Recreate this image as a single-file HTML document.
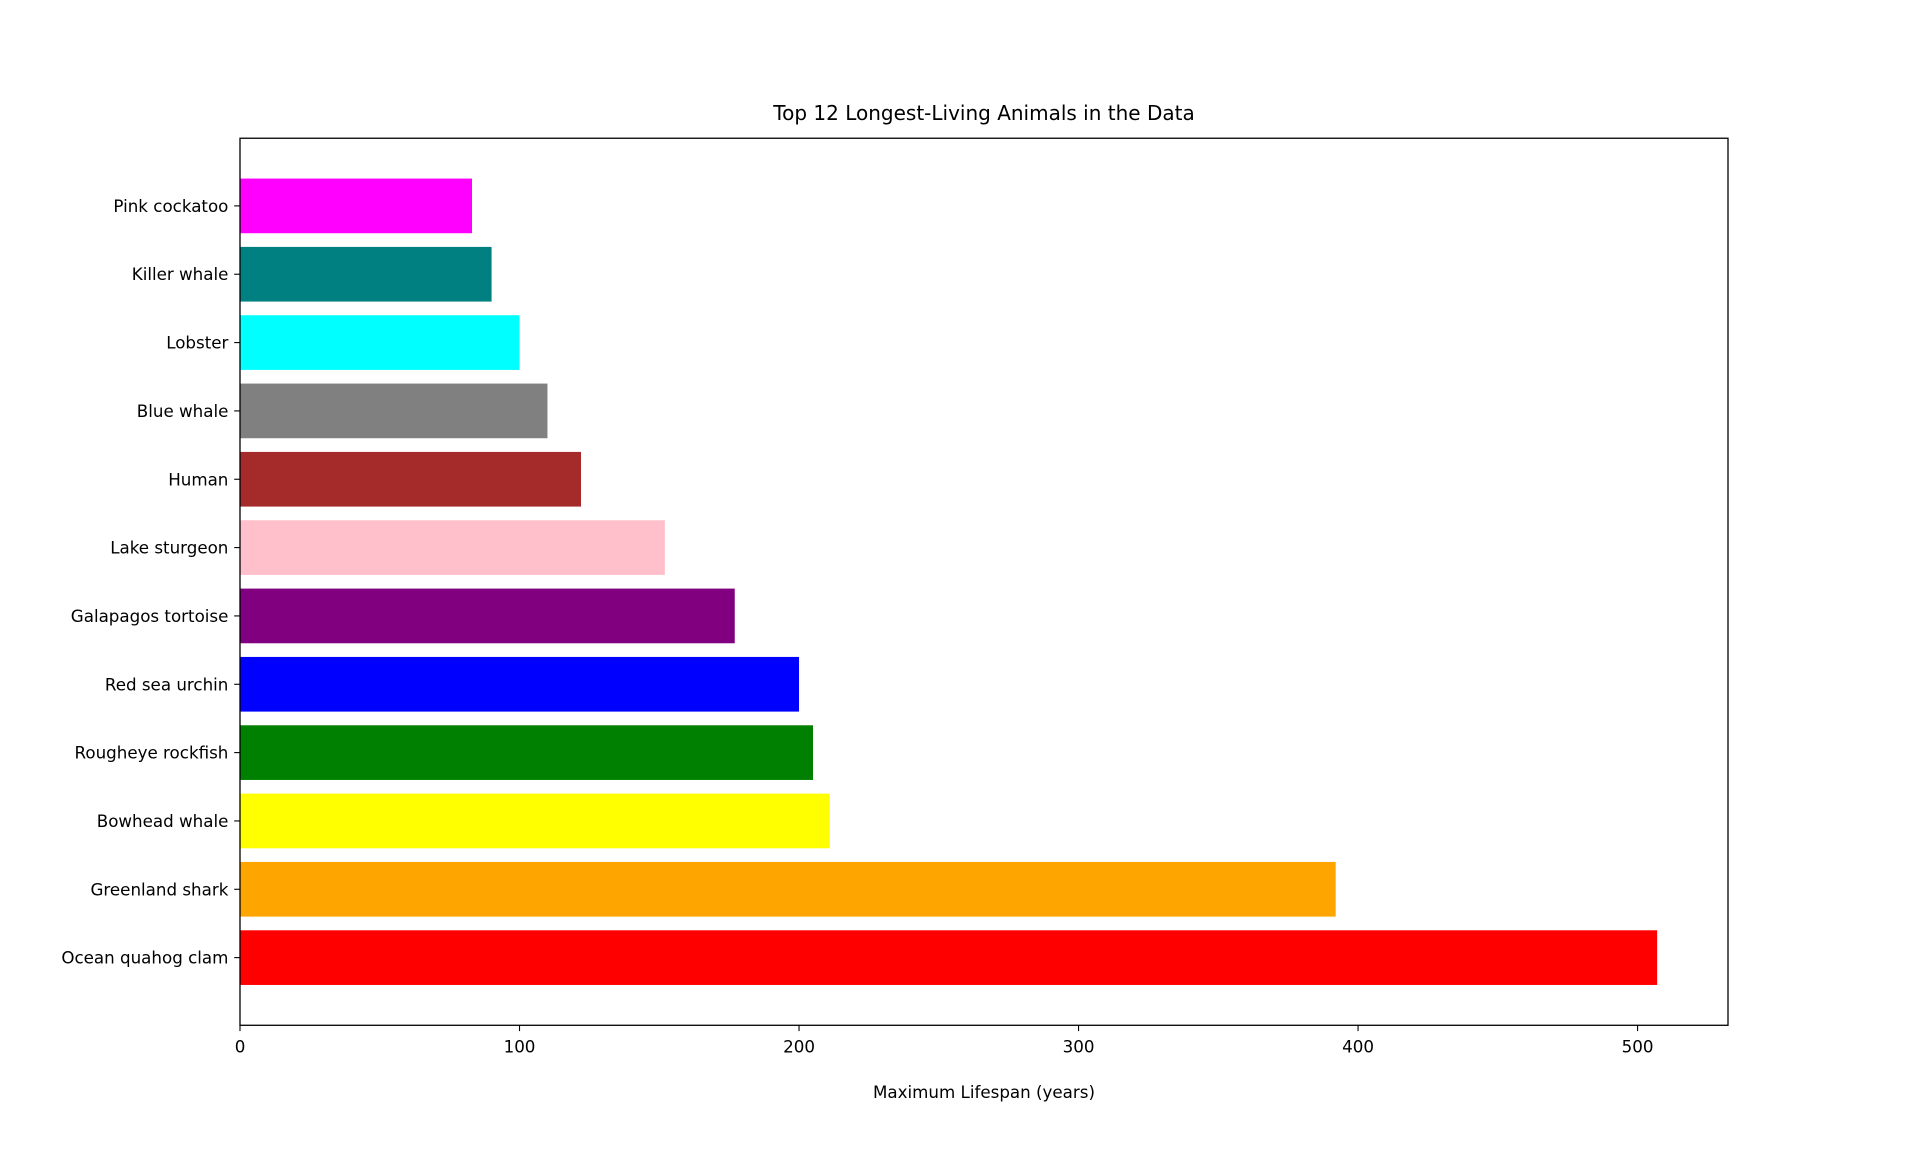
<!DOCTYPE html>
<html><head><meta charset="utf-8"><style>
html,body{margin:0;padding:0;background:#fff}
svg text{font-family:"DejaVu Sans","Liberation Sans",sans-serif;fill:#000}
</style></head><body>
<svg id="chart" width="1920" height="1152" xmlns="http://www.w3.org/2000/svg">
<rect width="1920" height="1152" fill="#fff"/>
<text x="984" y="120" font-size="20" text-anchor="middle">Top 12 Longest-Living Animals in the Data</text>
<g id="bars"></g>
<g id="yticks"></g>
<g id="xticks"></g>
<rect x="240" y="138.24" width="1488" height="887.04" fill="none" stroke="#000" stroke-width="1.3"/>
<text x="984" y="1098" font-size="16.7" text-anchor="middle">Maximum Lifespan (years)</text>
</svg>
<script>
const categories=["Ocean quahog clam","Greenland shark","Bowhead whale","Rougheye rockfish","Red sea urchin","Galapagos tortoise","Lake sturgeon","Human","Blue whale","Lobster","Killer whale","Pink cockatoo"];
const values=[507,392,211,205,200,177,152,122,110,100,90,83];
const barColors=["red","orange","yellow","green","blue","purple","pink","brown","gray","cyan","teal","magenta"];
const xTicks=[0,100,200,300,400,500];
const NS="http://www.w3.org/2000/svg";
const L=240,R=1728,T=138.24,B=1025.28;
const xmax=Math.max(...values)*1.05;
const x=v=>L+v/xmax*(R-L);
const n=categories.length;
const ylo=-0.4-0.05*(n-0.2), yhi=n-1+0.4+0.05*(n-0.2);
const y=v=>B-(v-ylo)/(yhi-ylo)*(B-T);
const bars=document.getElementById('bars'),yt=document.getElementById('yticks'),xt=document.getElementById('xticks');
values.forEach((v,i)=>{
 const r=document.createElementNS(NS,'rect');
 
 
 r.setAttribute('x',x(0));r.setAttribute('y',y(i+0.4));
 r.setAttribute('width',x(v)-x(0));r.setAttribute('height',y(i-0.4)-y(i+0.4));
 r.setAttribute('fill',barColors[i]);bars.appendChild(r);
 const tk=document.createElementNS(NS,'line');
 
 
 tk.setAttribute('x1',L-5.8);tk.setAttribute('x2',L);tk.setAttribute('y1',y(i));tk.setAttribute('y2',y(i));tk.setAttribute('stroke','#000');tk.setAttribute('stroke-width','1.1');yt.appendChild(tk);
 const t=document.createElementNS(NS,'text');
 
 
 t.setAttribute('x',L-11.6);t.setAttribute('y',y(i)+6);t.setAttribute('font-size','16.7');t.setAttribute('text-anchor','end');
 t.textContent=categories[i];yt.appendChild(t);
});
xTicks.forEach(v=>{
 const tk=document.createElementNS(NS,'line');
 
 
 tk.setAttribute('x1',x(v));tk.setAttribute('x2',x(v));tk.setAttribute('y1',B);tk.setAttribute('y2',B+5.8);tk.setAttribute('stroke','#000');tk.setAttribute('stroke-width','1.1');xt.appendChild(tk);
 const t=document.createElementNS(NS,'text');
 
 
 t.setAttribute('x',x(v));t.setAttribute('y',B+27);t.setAttribute('font-size','16.7');t.setAttribute('text-anchor','middle');
 t.textContent=v;xt.appendChild(t);
});
</script>
</body></html>
